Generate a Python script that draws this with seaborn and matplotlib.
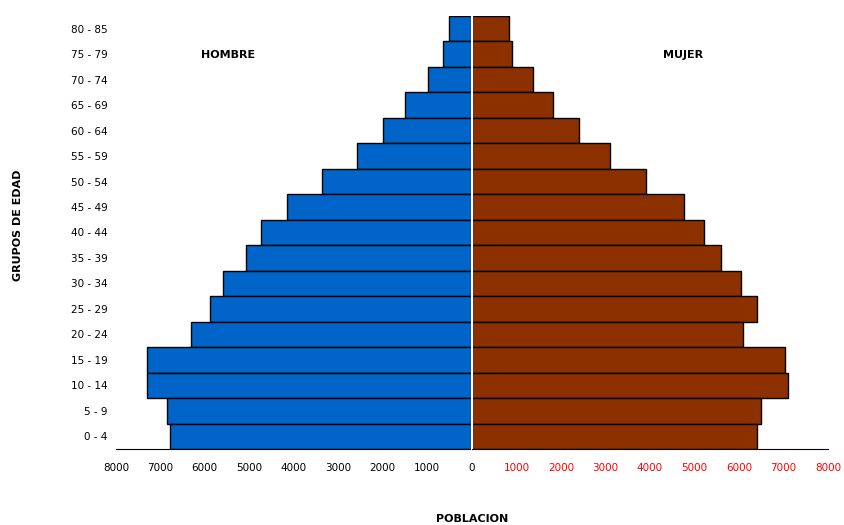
import pandas as pd
import matplotlib.pyplot as plt
import seaborn as sns

# age groups, top to bottom as in the pyramid
edades = ["80 - 85", "75 - 79", "70 - 74", "65 - 69", "60 - 64", "55 - 59",
          "50 - 54", "45 - 49", "40 - 44", "35 - 39", "30 - 34", "25 - 29",
          "20 - 24", "15 - 19", "10 - 14", "5 - 9", "0 - 4"]
hombres = [500, 640, 975, 1490, 1975, 2560, 3350, 4140, 4730, 5070,
           5590, 5880, 6310, 7300, 7300, 6850, 6780]
mujeres = [825, 890, 1365, 1815, 2410, 3090, 3905, 4770, 5220, 5590,
           6040, 6410, 6100, 7030, 7110, 6485, 6410]
ticks = [0, 1000, 2000, 3000, 4000, 5000, 6000, 7000, 8000]

df = pd.DataFrame({"edad": edades, "hombre": hombres, "mujer": mujeres})

sns.set_style("white")
plt.rcParams['font.family'] = ['DejaVu Sans']
plt.rcParams['text.color'] = 'black'
plt.rcParams['xtick.color'] = 'black'
plt.rcParams['ytick.color'] = 'black'
plt.rcParams['axes.labelcolor'] = 'black'

fig = plt.figure(figsize=(8.45, 5.25), dpi=100)
ax_h = fig.add_axes([116 / 845, 76 / 525, 355 / 845, 433 / 525])
ax_m = fig.add_axes([472 / 845, 76 / 525, 356 / 845, 433 / 525])

# --- HOMBRE ---
sns.barplot(data=df, x="hombre", y="edad", orient="h", color="#0064c8",
            saturation=1, width=1.0, edgecolor="black", linewidth=1, ax=ax_h)
ax_h.set_xlim(8000, 0)
ax_h.set_xticks(ticks)
ax_h.set_xticklabels([""] + [str(t) for t in ticks[1:]], fontsize=7.5)
ax_h.set_xlabel("")
ax_h.set_ylabel("")
ax_h.tick_params(axis="y", length=0, labelsize=7.5, pad=6)
ax_h.tick_params(axis="x", direction="out", length=4, width=1, color="black", pad=6)
for s in ["top", "right", "left"]:
    ax_h.spines[s].set_visible(False)
ax_h.spines["bottom"].set_color("black")

# --- MUJER ---
sns.barplot(data=df, x="mujer", y="edad", orient="h", color="#8c3000",
            saturation=1, width=1.0, edgecolor="black", linewidth=1, ax=ax_m)
ax_m.set_xlim(0, 8000)
ax_m.set_xticks(ticks)
ax_m.set_xticklabels([str(t) for t in ticks], fontsize=7.5)
for lab in ax_m.get_xticklabels()[1:]:
    lab.set_color("red")
ax_m.set_xlabel("")
ax_m.set_ylabel("")
ax_m.set_yticks([i - 0.5 for i in range(len(edades))])
ax_m.set_yticklabels([])
ax_m.tick_params(axis="y", direction="out", length=4, width=1, color="white")
ax_m.tick_params(axis="x", direction="out", length=4, width=1, color="black", pad=6)
ax_m.set_ylim(len(edades) - 0.5, -0.5)
for s in ["top", "right"]:
    ax_m.spines[s].set_visible(False)
ax_m.spines["left"].set_color("white")
ax_m.spines["left"].set_linewidth(1.5)
ax_m.spines["bottom"].set_color("black")

fig.text(228 / 845, 1 - 55 / 525, "HOMBRE", fontsize=8, fontweight="bold",
         ha="center", va="center")
fig.text(683 / 845, 1 - 55 / 525, "MUJER", fontsize=8, fontweight="bold",
         ha="center", va="center")
fig.text(18 / 845, 1 - 225 / 525, "GRUPOS DE EDAD", fontsize=8, fontweight="bold",
         rotation=90, ha="center", va="center")
fig.text(472 / 845, 1 - 519 / 525, "POBLACION", fontsize=8, fontweight="bold",
         ha="center", va="center")

fig.savefig("out.png", dpi=100)
